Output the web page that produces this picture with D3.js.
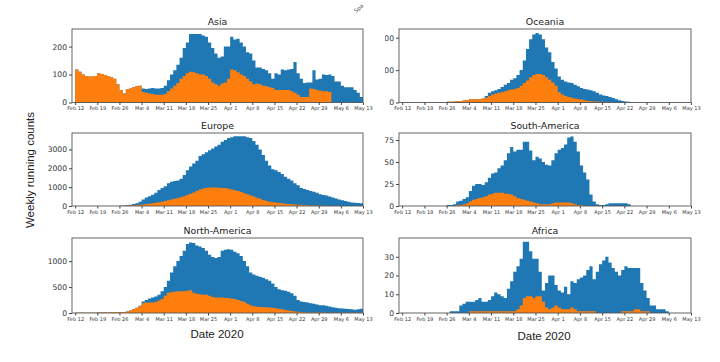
<!DOCTYPE html>
<html>
<head>
<meta charset="utf-8">
<script src="https://cdn.jsdelivr.net/npm/d3@7"></script>
<style>
  body { margin: 0; background: #fff; }
  svg { display: block; }
  .title { font-family: "DejaVu Sans", sans-serif; font-size: 9.4px; fill: #222; }
  .ytick text { font-family: "DejaVu Sans", sans-serif; font-size: 7.6px; fill: #333; }
  .xtick text { font-family: "DejaVu Sans", sans-serif; font-size: 5px; fill: #333; }
  .axlabel { font-family: "Liberation Sans", Arial, sans-serif; font-size: 11.5px; fill: #222; }
</style>
</head>
<body>
<div id="chart"></div>
<script>
// day 0 = Feb 12 2020, one step per day
const xTickDays = [0, 7, 14, 21, 28, 35, 42, 49, 56, 63, 70, 77, 84, 91];
const xTickLabels = ["Feb 12", "Feb 19", "Feb 26", "Mar 4", "Mar 11", "Mar 18", "Mar 25",
  "Apr 1", "Apr 8", "Apr 15", "Apr 22", "Apr 29", "May 6", "May 13"];

const asiaTotal = [
  118,110,100,95,93,93,95, 105,102,98,95,90,85,65, 45,32,48,50,55,58,60,
  50,48,50,52,50,50,52, 60,80,100,115,135,160,195, 215,245,245,245,245,240,235,
  215,195,175,160,165,200,200, 235,225,228,215,200,180,175, 150,125,125,120,115,105,85,
  105,100,118,115,118,120,145, 105,85,70,72,72,115,82, 85,100,98,100,95,75,75,
  60,55,55,55,45,35,20];
const asiaSub = [
  118,110,100,95,93,93,95, 105,102,98,95,90,85,65, 45,32,48,50,55,58,60,
  38,35,32,30,28,28,28, 30,40,50,60,70,85,95, 105,110,108,105,100,100,95,
  85,72,65,60,68,72,85, 118,115,108,100,95,85,75, 65,68,65,60,58,55,52,
  45,45,45,45,45,40,35, 28,20,20,20,50,48,45, 42,40,40,38,0,0,0,
  0,0,0,0,0,0,0];

const oceaniaTotal = [
  0,1,1,0,0,0,1, 0,0,1,1,1,1,1, 2,2,3,4,5,6,8,
  10,10,10,11,12,20,30, 35,38,42,48,55,60,70, 75,85,100,130,165,195,210,
  215,210,195,170,155,125,105, 80,70,65,62,60,55,50, 45,42,40,38,35,30,25,
  22,20,17,14,10,7,5, 3,2,1,1,0,0,0, 0,0,0,0,0,0,0,
  0,0,0,0,0,0,0];
const oceaniaSub = [
  0,0,0,0,0,0,0, 0,0,0,0,0,0,0, 2,2,3,4,5,6,8,
  10,10,10,11,12,15,20, 25,28,30,32,35,38,40, 42,45,52,60,68,78,85,
  88,88,85,78,70,62,52, 32,25,20,17,15,12,10, 9,7,5,4,3,3,2,
  2,1,0,0,0,0,0, 0,0,0,0,0,0,0, 0,0,0,0,0,0,0,
  0,0,0,0,0,0,0];

const europeTotal = [
  0,0,0,0,0,0,0, 0,0,0,0,0,0,0, 10,20,40,60,100,150,220,
  350,450,520,600,700,850,950, 1050,1200,1280,1320,1350,1450,1650, 1900,2100,2250,2400,2650,2750,2850,
  2950,3050,3150,3250,3400,3500,3600, 3650,3700,3700,3700,3700,3650,3600, 3450,3250,3000,2700,2400,2150,1950,
  1900,1800,1700,1550,1450,1350,1200, 1100,950,900,850,800,750,700, 620,580,560,500,450,400,350,
  300,260,220,190,170,160,150];
const europeSub = [
  0,0,0,0,0,0,0, 0,0,0,0,0,0,0, 0,10,20,30,40,50,60,
  80,100,120,140,170,200,230, 270,300,340,380,420,470,520, 580,650,720,800,870,930,960,
  980,980,975,970,960,950,920, 880,840,790,740,680,620,560, 500,440,380,320,270,230,200,
  180,160,140,120,100,90,80, 70,60,50,40,30,25,20, 15,10,10,8,5,5,5,
  5,5,3,3,2,2,2];

const southAmTotal = [
  0,0,0,0,0,0,0, 0,0,0,0,0,0,0, 1,1,2,5,6,8,10,
  17,23,25,25,24,27,32, 37,38,43,46,52,60,67, 62,64,64,73,73,63,52,
  56,54,50,47,46,52,60, 64,66,70,78,79,73,62, 46,38,30,13,5,2,1,
  1,2,3,3,3,3,3, 3,2,0,0,0,0,0, 0,0,0,0,0,0,0,
  0,0,0,0,0,0,0];
const southAmSub = [
  0,0,0,0,0,0,0, 0,0,0,0,0,0,0, 0,0,0,1,1,2,3,
  5,7,8,9,10,11,13, 14,15,15,15,14,14,13, 11,9,8,7,6,5,4,
  3,2,2,2,2,3,4, 4,4,4,4,3,2,1, 1,0,0,0,0,0,0,
  0,0,0,0,0,0,0, 0,0,0,0,0,0,0, 0,0,0,0,0,0,0,
  0,0,0,0,0,0,0];

const northAmTotal = [
  3,3,3,3,3,3,5, 8,10,12,12,13,14,15, 15,20,30,50,70,100,140,
  220,250,280,300,320,350,420, 500,620,780,900,1000,1100,1200, 1330,1360,1350,1300,1280,1250,1200,
  1120,1080,1060,1080,1200,1220,1230, 1220,1180,1150,1100,1000,900,780, 740,720,700,680,650,620,570,
  500,460,440,430,410,380,330, 250,220,210,200,190,180,165, 150,150,140,125,110,100,90,
  85,80,75,70,65,70,80];
const northAmSub = [
  3,3,3,3,3,3,5, 8,10,12,12,13,14,15, 15,20,30,50,70,100,130,
  190,200,200,200,210,240,270, 330,390,400,410,420,420,420, 430,440,390,370,360,350,350,
  330,310,300,300,300,290,290, 280,270,250,230,210,180,150, 130,120,115,110,110,105,100,
  90,80,70,60,50,40,30, 25,20,15,10,10,10,10, 10,8,5,5,5,5,5,
  5,5,5,5,5,5,5];

const africaTotal = [
  0,0,0,0,0,0,0, 0,0,0,0,0,0,0, 0,1,1,1,4,5,6,
  6,6,7,8,6,6,7, 9,11,10,9,8,13,17, 22,25,29,38,38,33,29,
  29,22,12,16,20,20,15, 12,11,14,10,17,16,18, 19,20,23,25,18,22,26,
  28,30,27,24,22,20,23, 25,24,24,24,24,16,12, 8,4,4,2,2,2,1,
  0,0,0,0,0,0,0];
const africaSub = [
  0,0,0,0,0,0,0, 0,0,0,0,0,0,0, 0,0,0,0,0,0,0,
  1,1,1,1,1,1,1, 1,1,1,1,1,1,1, 1,2,4,8,9,9,8,
  9,9,6,3,2,3,4, 3,2,2,2,3,2,1, 1,1,1,1,1,0,0,
  0,0,0,0,0,0,1, 1,1,1,2,2,1,1, 1,0,0,0,0,0,0,
  0,0,0,0,0,0,0];

const asiaTicks = [0, 100, 200];
const oceaniaTicks = [0, 100, 200];
const europeTicks = [0, 1000, 2000, 3000];
const southAmTicks = [0, 25, 50, 75];
const northAmTicks = [0, 500, 1000];
const africaTicks = [0, 10, 20, 30];

const width = 720, height = 362;
const svg = d3.select("#chart").append("svg")
  .attr("width", width).attr("height", height);
svg.append("rect").attr("width", width).attr("height", height).attr("fill", "#fff");

// the oceania y labels are cut on the left in the original
svg.append("clipPath").attr("id", "cutLeft")
  .append("rect").attr("x", 385).attr("y", 0).attr("width", 40).attr("height", 120);

function drawPanel(name, total, sub, yTicks, yMax, box, clipY) {
  let x = d3.scaleLinear().domain([-1, 91]).range([box.x0, box.x1]);
  let y = d3.scaleLinear().domain([0, yMax]).range([box.y1, box.y0]);
  let g = svg.append("g");

  // step area: each day spans [i, i+1]
  let step = d3.area()
    .curve(d3.curveStepAfter)
    .x(function(d,i) { return x(i); })
    .y0(y(0))
    .y1(function(d) { return y(d); });

  g.append("path")
    .datum(total.concat([total[total.length-1]]))
    .attr("d", step)
    .attr("fill", "#1f77b4");

  g.append("path")
    .datum(sub.concat([sub[sub.length-1]]))
    .attr("d", step)
    .attr("fill", "#ff7f0e");

  g.append("rect")
    .attr("x", box.x0).attr("y", box.y0)
    .attr("width", box.x1 - box.x0).attr("height", box.y1 - box.y0)
    .attr("fill", "none").attr("stroke", "#555").attr("stroke-width", 0.9);

  let xAxis = g.append("g").attr("class", "xtick")
    .attr("transform", "translate(0," + box.y1 + ")")
    .call(d3.axisBottom(x).tickValues(xTickDays)
      .tickFormat(function(d,i) { return xTickLabels[i]; })
      .tickSize(2.5).tickPadding(1.5));
  xAxis.select(".domain").remove();
  xAxis.selectAll("line").attr("stroke", "#444");

  let wrap = g.append("g");
  if (clipY) wrap.attr("clip-path", "url(#cutLeft)");
  let yAxis = wrap.append("g").attr("class", "ytick")
    .attr("transform", "translate(" + box.x0 + ",0)")
    .call(d3.axisLeft(y).tickValues(yTicks).tickFormat(d3.format("d"))
      .tickSize(3).tickPadding(2));
  yAxis.select(".domain").remove();
  yAxis.selectAll("line").attr("stroke", "#444");

  g.append("text").attr("class", "title")
    .attr("x", (box.x0 + box.x1) / 2).attr("y", box.y0 - 4.5)
    .attr("text-anchor", "middle")
    .text(name);
}

const left = { x0: 72, x1: 363 }, right = { x0: 399, x1: 691 };
const rows = [{ y0: 29, y1: 102.5 }, { y0: 133, y1: 206 }, { y0: 238, y1: 313 }];
function box(col, row) { return { x0: col.x0, x1: col.x1, y0: rows[row].y0, y1: rows[row].y1 }; }

drawPanel("Asia", asiaTotal, asiaSub, asiaTicks, 263, box(left, 0));
drawPanel("Oceania", oceaniaTotal, oceaniaSub, oceaniaTicks, 227, box(right, 0), true);
drawPanel("Europe", europeTotal, europeSub, europeTicks, 3870, box(left, 1));
drawPanel("South-America", southAmTotal, southAmSub, southAmTicks, 83, box(right, 1));
drawPanel("North-America", northAmTotal, northAmSub, northAmTicks, 1445, box(left, 2));
drawPanel("Africa", africaTotal, africaSub, africaTicks, 40, box(right, 2));

svg.append("text").attr("class", "axlabel")
  .attr("transform", "translate(34,170) rotate(-90)")
  .attr("text-anchor", "middle")
  .text("Weekly running counts");

svg.append("text").attr("class", "axlabel")
  .attr("x", 217).attr("y", 338).attr("text-anchor", "middle")
  .text("Date 2020");
svg.append("text").attr("class", "axlabel")
  .attr("x", 544).attr("y", 340).attr("text-anchor", "middle")
  .text("Date 2020");

// small rotated label in the top gap
svg.append("text")
  .attr("transform", "translate(356,13) rotate(-40)")
  .style("font-family", "DejaVu Sans, sans-serif").style("font-size", "5.5px").style("fill", "#555")
  .text("Spa");
</script>
</body>
</html>
